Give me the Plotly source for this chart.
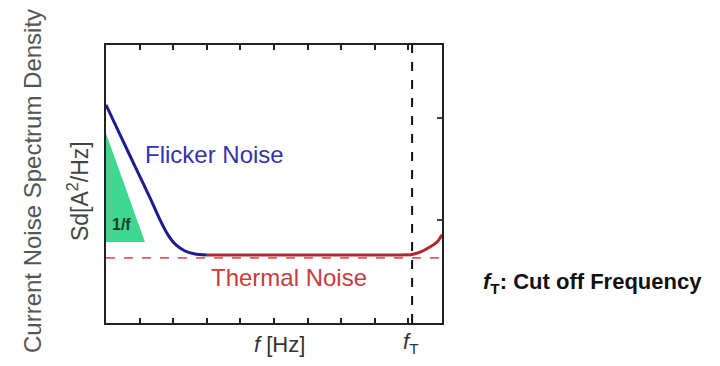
import plotly.graph_objects as go

# Flicker (1/f) noise curve, frequency in axis units 0..10, density in axis units
flicker_f = [0.0, 0.417, 0.863, 1.31, 1.607, 1.845, 2.083, 2.351, 2.649, 3.0]
flicker_s = [2.127, 1.837, 1.527, 1.22, 1.005, 0.859, 0.761, 0.702, 0.673, 0.663]

# Thermal noise plateau rising near the cut-off frequency
thermal_f = [3.0, 5.0, 7.0, 9.1, 9.35, 9.64, 9.88, 10.0]
thermal_s = [0.663, 0.663, 0.663, 0.668, 0.69, 0.74, 0.80, 0.86]

# Thermal noise floor (dashed reference)
floor_f = [0.0, 10.0]
floor_s = [0.635, 0.635]

# 1/f slope wedge
wedge_f = [0.0, 0.0, 1.16, 0.0]
wedge_s = [1.85, 0.79, 0.79, 1.85]

cutoff_f = 9.11
x_range = [0, 10]
y_range = [0, 2.71]

fig = go.Figure()

fig.add_trace(go.Scatter(
    x=wedge_f, y=wedge_s, mode="lines", fill="toself",
    fillcolor="#3ed891", line=dict(width=0), hoverinfo="skip"))

fig.add_trace(go.Scatter(
    x=floor_f, y=floor_s, mode="lines",
    line=dict(color="#e25a5a", width=1.6, dash="dash"), hoverinfo="skip"))

fig.add_trace(go.Scatter(
    x=thermal_f, y=thermal_s, mode="lines", line_shape="spline",
    line=dict(color="#b5262e", width=3, smoothing=0.6), hoverinfo="skip"))

fig.add_trace(go.Scatter(
    x=flicker_f, y=flicker_s, mode="lines", line_shape="spline",
    line=dict(color="#1c1c8c", width=3, smoothing=0.6), hoverinfo="skip"))

# Cut-off frequency marker
fig.add_shape(type="line", x0=cutoff_f, x1=cutoff_f, y0=y_range[0], y1=y_range[1],
              line=dict(color="#111111", width=2, dash="dash"))

font = "Liberation Sans, Arial, sans-serif"


def label(x, y, text, size, color, xref="x", yref="y", angle=0):
    return dict(x=x, y=y, xref=xref, yref=yref, text=text, textangle=angle,
                xanchor="center", yanchor="middle", showarrow=False,
                font=dict(size=size, color=color, family=font))


annotations = [
    label(3.22, 1.64, "Flicker Noise", 24, "#3434a8"),
    label(5.45, 0.44, "Thermal Noise", 24, "#c83c3c"),
    label(0.45, 0.96, "<b>1/f</b>", 16, "#1e3a26"),
    label(5.15, -0.079, "<i>f</i> [Hz]", 22, "#333333", yref="paper"),
    label(9.08, -0.072, "<i>f</i><sub>T</sub>", 22, "#333333", yref="paper"),
    label(-0.217, 0.511, "Current Noise Spectrum Density", 24, "#555555",
          xref="paper", yref="paper", angle=-90),
    label(-0.083, 0.475, "Sd[A<sup>2</sup>/Hz]", 23, "#444444",
          xref="paper", yref="paper", angle=-90),
    label(1.448, 0.144, "<b><i>f</i><sub>T</sub>: Cut off Frequency</b>", 22,
          "#111111", xref="paper", yref="paper"),
]

fig.update_layout(
    width=720, height=366,
    margin=dict(l=106, r=278, t=45, b=43),
    paper_bgcolor="white", plot_bgcolor="white",
    showlegend=False,
    annotations=annotations,
    xaxis=dict(range=x_range, dtick=1, tick0=0, showgrid=False, zeroline=False,
               showline=True, linecolor="#222222", linewidth=2, mirror="ticks",
               ticks="inside", ticklen=5, tickwidth=2, tickcolor="#222222",
               showticklabels=False),
    yaxis=dict(range=y_range, dtick=1, tick0=0, showgrid=False, zeroline=False,
               side="right", showline=True, linecolor="#222222", linewidth=2,
               mirror=True, ticks="inside", ticklen=5, tickwidth=2,
               tickcolor="#444444", showticklabels=False),
)

fig.write_html("out.html")
